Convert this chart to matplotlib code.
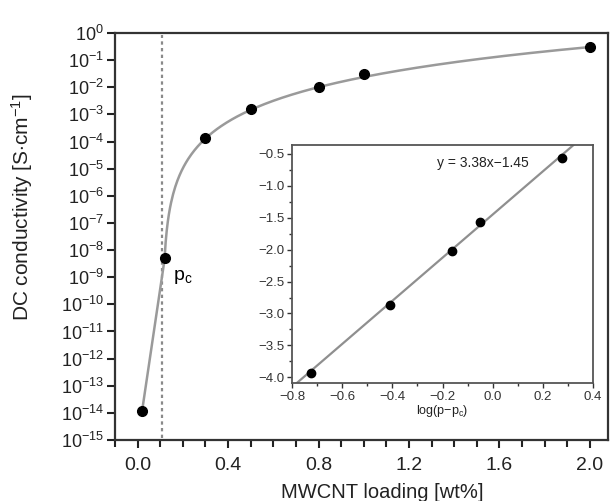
import numpy as np
import matplotlib
matplotlib.use('Agg')
import matplotlib.pyplot as plt
from matplotlib.ticker import MultipleLocator, FixedLocator, FuncFormatter

plt.rcParams['font.family'] = ['Liberation Sans', 'DejaVu Sans']
plt.rcParams['mathtext.fontset'] = 'custom'
plt.rcParams['mathtext.rm'] = 'Liberation Sans'
plt.rcParams['mathtext.it'] = 'Liberation Sans:italic'

# main data: MWCNT loading vs DC conductivity
loading = [0.02, 0.12, 0.30, 0.50, 0.80, 1.00, 2.00]
conductivity = [1.2e-14, 5e-9, 1.4e-4, 1.6e-3, 1.0e-2, 3.0e-2, 3.0e-1]
p_c = 0.11

# inset data: log(sigma) vs log(p - p_c)
log_dp = [-0.723, -0.411, -0.161, -0.049, 0.276]
log_sigma = [-3.93, -2.86, -2.02, -1.56, -0.56]
fit_slope = 3.38
fit_icept = -1.45


def minus_fmt(v, pos):
    return ('%.1f' % v).replace('-', '\u2212')


fig = plt.figure(figsize=(6.11, 5.01), dpi=100)
fig.patch.set_facecolor('white')

# Main plot
ax = fig.add_axes([0.1882, 0.1218, 0.8068, 0.8122])
ax.set_yscale('log')
ax.set_xlim(-0.10, 2.08)
ax.set_ylim(1e-15, 1e0)

# fitted curve: line below p_c, power law above it
curve_x = np.linspace(p_c + 0.0094, 2.0, 400)
curve_y = 10 ** (fit_slope * np.log10(curve_x - p_c) + fit_icept)
ax.plot(loading[:2], conductivity[:2], color='#9a9a9a', lw=1.8, zorder=2)
ax.plot(curve_x, curve_y, color='#9a9a9a', lw=1.8, zorder=2)
ax.plot(loading, conductivity, 'o', color='black', ms=7, zorder=3)
ax.axvline(p_c, ymin=0.005, ymax=0.995, color='#8a8a8a', lw=1.6,
           ls=(0, (1.5, 1.5)), zorder=1)
ax.text(0.155, 2.2e-9, r'p$_\mathregular{c}$', fontsize=14, va='top')

ax.set_yticks([10.0 ** e for e in range(-15, 1)])
ax.set_yticklabels([r'$\mathregular{10^{%d}}$' % e for e in range(-15, 1)])
ax.yaxis.set_minor_locator(FixedLocator([]))
ax.xaxis.set_major_locator(MultipleLocator(0.4))
ax.xaxis.set_minor_locator(MultipleLocator(0.1))
ax.set_xticklabels([], minor=True)
ax.xaxis.set_major_formatter(plt.FormatStrFormatter('%.1f'))
ax.tick_params(axis='both', which='major', direction='out', length=6,
               width=1.5, labelsize=13, colors='#222222')
ax.tick_params(axis='x', which='minor', direction='out', length=5, width=1.5,
               colors='#222222')
ax.tick_params(axis='x', labelsize=14, pad=6)
ax.tick_params(axis='y', pad=2)
for s in ax.spines.values():
    s.set_linewidth(1.6)
    s.set_color('#333333')
ax.set_xlabel('MWCNT loading [wt%]', fontsize=14.5, color='#222222')
ax.xaxis.set_label_coords(0.5416, -0.105)
ax.set_ylabel(r'DC conductivity [S$\cdot$cm$^{\mathregular{-1}}$]',
              fontsize=15, color='#222222')
ax.yaxis.set_label_coords(-0.162, 0.572)

# Inset
ins = fig.add_axes([0.478, 0.2355, 0.4925, 0.4751])
ins.set_xlim(-0.8, 0.4)
ins.set_ylim(-4.09, -0.36)
fx = np.array([-0.8, 0.4])
ins.plot(fx, fit_slope * fx + fit_icept, color='#8f8f8f', lw=1.6, zorder=2)
ins.plot(log_dp, log_sigma, 'o', color='black', ms=6, zorder=3)
ins.text(-0.039, -0.64, 'y = 3.38x\u22121.45', fontsize=10, color='#222222',
         ha='center', va='center')
ins.xaxis.set_major_locator(MultipleLocator(0.2))
ins.xaxis.set_minor_locator(MultipleLocator(0.1))
ins.yaxis.set_major_locator(MultipleLocator(0.5))
ins.yaxis.set_minor_locator(MultipleLocator(0.25))
ins.xaxis.set_major_formatter(FuncFormatter(minus_fmt))
ins.yaxis.set_major_formatter(FuncFormatter(minus_fmt))
ins.tick_params(which='major', direction='out', length=3.5, width=1,
                labelsize=9.5, colors='#333333', pad=2)
ins.tick_params(which='minor', direction='out', length=2, width=1,
                colors='#333333')
for s in ins.spines.values():
    s.set_linewidth(1.3)
    s.set_color('#555555')
ins.set_xlabel(r'log(p$-$p$_\mathregular{c}$)', fontsize=9, color='#222222',
               labelpad=0)

fig.savefig('out.png', dpi=100)
